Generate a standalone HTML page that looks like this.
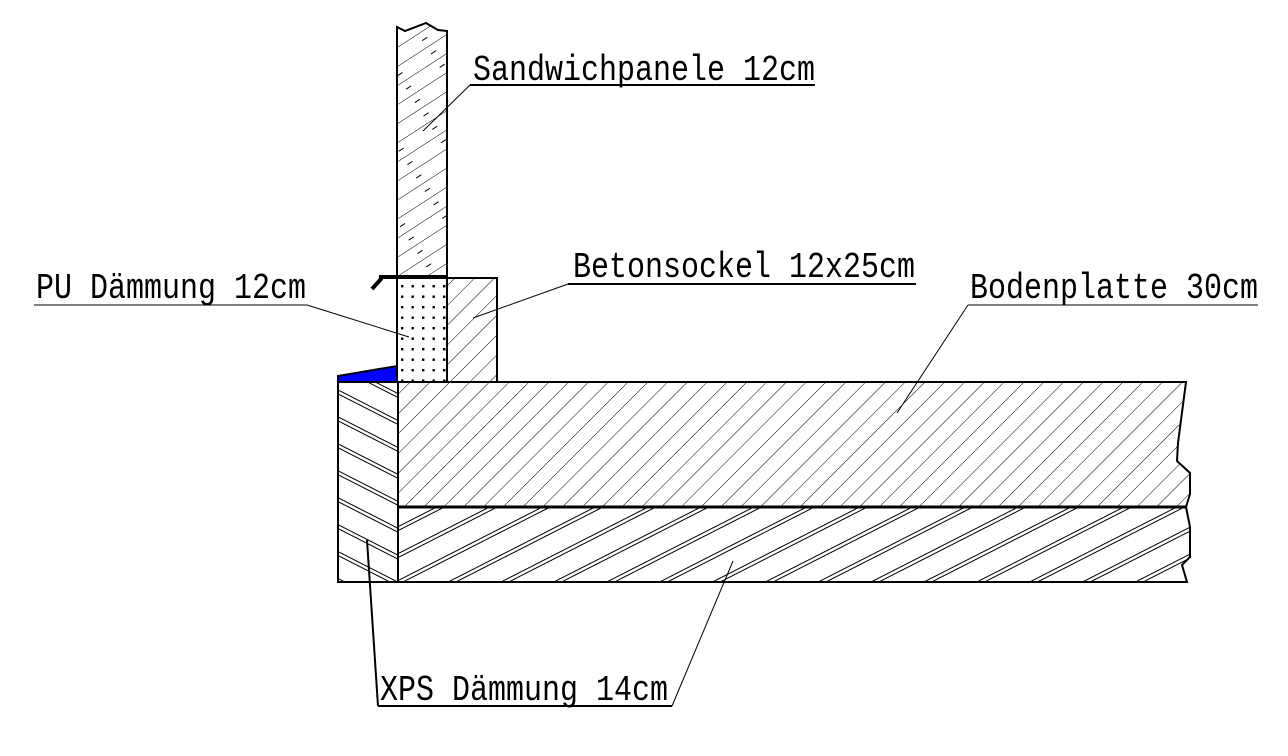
<!DOCTYPE html>
<html><head><meta charset="utf-8"><style>
html,body{margin:0;padding:0;background:#fff;}
svg{display:block;}
text{font-family:"Liberation Mono",monospace;font-size:30px;fill:#000;}
</style></head><body>
<svg width="1288" height="756" viewBox="0 0 1288 756" xmlns="http://www.w3.org/2000/svg">
<defs>
<pattern id="h45" width="14" height="14" patternUnits="userSpaceOnUse" patternTransform="rotate(45)">
<line x1="0" y1="0" x2="0" y2="14" stroke="#000" stroke-width="1"/>
</pattern>
<pattern id="low" width="60" height="24" patternUnits="userSpaceOnUse" patternTransform="rotate(-27)">
<line x1="0" y1="2" x2="60" y2="2" stroke="#000" stroke-width="1"/>
<line x1="0" y1="5.5" x2="60" y2="5.5" stroke="#000" stroke-width="1"/>
</pattern>
<pattern id="xps" width="60" height="24" patternUnits="userSpaceOnUse" patternTransform="rotate(27)">
<line x1="0" y1="2" x2="60" y2="2" stroke="#000" stroke-width="1"/>
<line x1="0" y1="5.5" x2="60" y2="5.5" stroke="#000" stroke-width="1"/>
</pattern>
<pattern id="sand" width="40" height="16" patternUnits="userSpaceOnUse" patternTransform="rotate(-33)">
<line x1="0" y1="0" x2="40" y2="0" stroke="#000" stroke-width="1"/>
<line x1="12" y1="8" x2="18" y2="8" stroke="#000" stroke-width="1"/>
</pattern>
<pattern id="dots" width="10.5" height="10.5" patternUnits="userSpaceOnUse" x="399" y="283">
<rect x="2" y="2" width="2.4" height="2.4" fill="#000"/>
</pattern>
</defs>

<path d="M397,382 L397,27 L405,31 L426,23 L438,30 L447,31 L447,382 Z" fill="url(#sand)" stroke="none"/>
<path d="M397,382 L397,27 L405,31 L426,23 L438,30 L447,31 L447,382" fill="none" stroke="#000" stroke-width="2"/>
<rect x="397" y="278" width="50" height="104" fill="#fff"/>
<rect x="397" y="278" width="50" height="104" fill="url(#dots)" stroke="#000" stroke-width="2"/>
<rect x="447" y="278" width="50" height="104" fill="url(#h45)" stroke="#000" stroke-width="2"/>
<path d="M372,289 L381,279 L381,277 L447,277" fill="none" stroke="#000" stroke-width="4"/>
<path d="M338,376 L397,366 L397,382 L338,382 Z" fill="#0000ff" stroke="#000" stroke-width="2"/>
<path d="M398,382 L1186,382 L1178,443 L1177,461 L1190,473 L1190,494 L1186,507 L398,507 Z" fill="url(#h45)" stroke="none"/>
<path d="M398,507 L1186,507 L1190,527 L1190,557 L1182,565 L1187,582 L398,582 Z" fill="url(#low)" stroke="none"/>
<path d="M398,382 L1186,382 L1178,443 L1177,461 L1190,473 L1190,494 L1186,507 L1190,527 L1190,557 L1182,565 L1187,582 L398,582 Z" fill="none" stroke="#000" stroke-width="2"/>
<line x1="398" y1="507" x2="1186" y2="507" stroke="#000" stroke-width="3"/>
<rect x="338" y="382" width="60" height="200" fill="url(#xps)" stroke="#000" stroke-width="2"/>

<text transform="translate(473,80) scale(1,1.2)">Sandwichpanele 12cm</text>
<line x1="470" y1="85" x2="815" y2="85" stroke="#000" stroke-width="2"/>
<line x1="470" y1="85" x2="423" y2="131" stroke="#000" stroke-width="1"/>

<text transform="translate(573,277) scale(1,1.2)">Betonsockel 12x25cm</text>
<line x1="568" y1="284" x2="916" y2="284" stroke="#000" stroke-width="2"/>
<line x1="568" y1="284" x2="473" y2="318" stroke="#000" stroke-width="1"/>

<text transform="translate(36,298) scale(1,1.2)">PU Dämmung 12cm</text>
<line x1="34" y1="305" x2="307" y2="305" stroke="#000" stroke-width="1"/>
<line x1="307" y1="305" x2="409" y2="337" stroke="#000" stroke-width="1"/>

<text transform="translate(970,298) scale(1,1.2)">Bodenplatte 30cm</text>
<line x1="968" y1="305" x2="1258" y2="305" stroke="#000" stroke-width="1"/>
<line x1="968" y1="305" x2="897" y2="413" stroke="#000" stroke-width="1"/>

<text transform="translate(380,700) scale(1,1.2)">XPS Dämmung 14cm</text>
<line x1="378" y1="706" x2="672" y2="706" stroke="#000" stroke-width="2"/>
<line x1="378" y1="706" x2="367" y2="540" stroke="#000" stroke-width="2"/>
<line x1="672" y1="706" x2="733" y2="561" stroke="#000" stroke-width="1"/>
</svg>
</body></html>
